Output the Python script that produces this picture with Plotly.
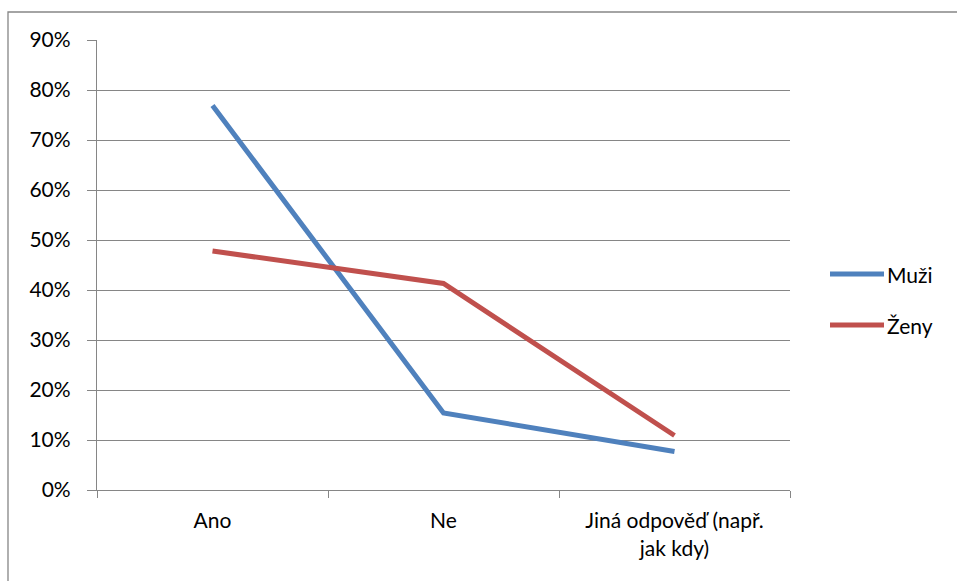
import plotly.graph_objects as go

# Survey answers by group (share of respondents)
categories = ["Ano", "Ne", "Jiná odpověď (např.<br>jak kdy)"]
muzi = [0.769, 0.154, 0.077]
zeny = [0.478, 0.413, 0.109]
series_names = ["Muži", "Ženy"]
series_colors = ["#4F81BD", "#C0504D"]
y_ticks = [i / 10 for i in range(10)]
y_tick_labels = [f"{i * 10}%" for i in range(10)]

W, H = 957, 581
L, R, T, B = 97, 790, 40, 490
pw, ph = R - L, B - T

def px_x(x):
    return (x - L) / pw

def px_y(y):
    return (B - y) / ph

fig = go.Figure()
for name, vals, col in zip(series_names, [muzi, zeny], series_colors):
    fig.add_trace(go.Scatter(
        x=categories, y=vals, mode="lines", name=name,
        line=dict(color=col, width=5), showlegend=False,
    ))

font = dict(family="Lato, Open Sans, sans-serif", size=21, color="#000000")
grid = "#868686"

fig.update_layout(
    width=W, height=H,
    margin=dict(l=L, r=W - R, t=T, b=H - B),
    paper_bgcolor="white", plot_bgcolor="white",
    font=font,
    xaxis=dict(
        type="category", range=[-0.5, 2.5],
        showline=True, linecolor=grid, linewidth=1.3,
        ticks="outside", tickson="boundaries", ticklen=7, tickcolor=grid, tickwidth=1.3,
        showgrid=False, zeroline=False, fixedrange=True,
        tickfont=font, ticklabelstandoff=12,
    ),
    yaxis=dict(
        range=[0, 0.9], tickvals=y_ticks + [0.9],
        ticktext=y_tick_labels + ["90%"],
        showline=True, linecolor=grid, linewidth=1.3,
        ticks="outside", ticklen=9, tickcolor=grid, tickwidth=1.3,
        showgrid=True, gridcolor=grid, gridwidth=1.3,
        zeroline=False, ticklabelstandoff=12, tickfont=font,
    ),
)

# Chart frame around the whole chart area
fig.add_shape(type="rect", xref="paper", yref="paper",
              x0=px_x(8), y0=px_y(600), x1=px_x(1000), y1=px_y(12),
              line=dict(color=grid, width=1.3), layer="below")

# Legend on the right side
legend_rows = [274, 325]
for name, col, yy in zip(series_names, series_colors, legend_rows):
    fig.add_shape(type="line", xref="paper", yref="paper",
                  x0=px_x(830), x1=px_x(884), y0=px_y(yy), y1=px_y(yy),
                  line=dict(color=col, width=5))
    fig.add_annotation(xref="paper", yref="paper", x=px_x(885), y=px_y(yy),
                       text=name, showarrow=False, xanchor="left", yanchor="middle",
                       font=font)

fig.write_html("out.html")
